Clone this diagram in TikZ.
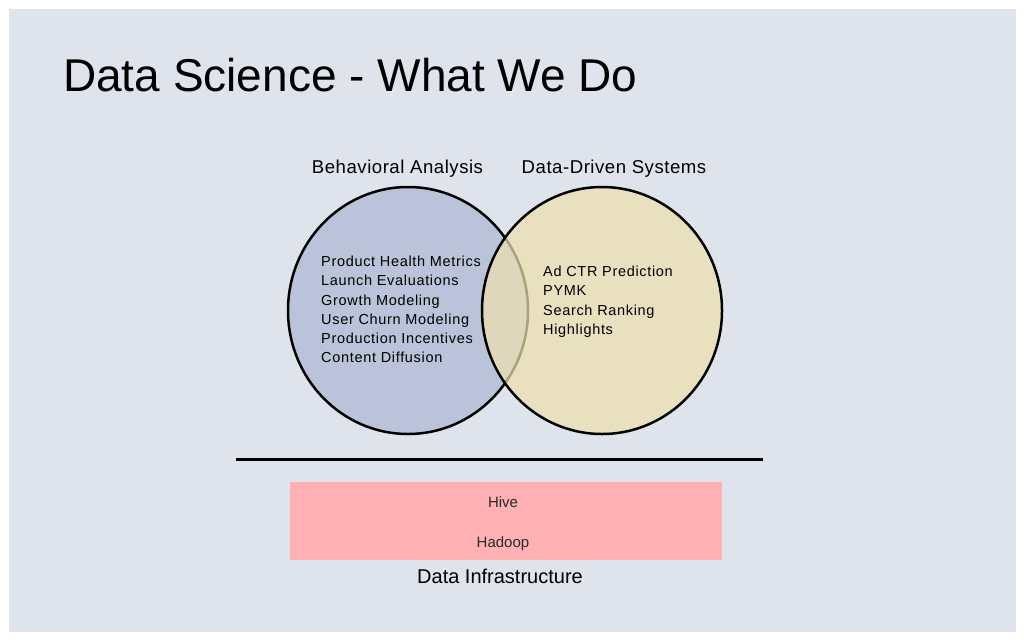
\documentclass[tikz,border=0pt]{standalone}
\usepackage{fontspec}
\setmainfont{Liberation Sans}
\setsansfont{Liberation Sans}
\usetikzlibrary{positioning,shapes.geometric}
\definecolor{slideFill}{HTML}{DFE3EC}
\definecolor{blueFill}{HTML}{BAC3D9}
\definecolor{sandFill}{HTML}{EDE0B0}
\definecolor{pinkFill}{HTML}{FFB1B3}
\definecolor{infraText}{HTML}{2A2A2A}

\begin{document}
\begin{tikzpicture}[
  x=1pt, y=-1pt,
  font=\sffamily,
  title/.style={font=\sffamily\fontsize{46}{52}\selectfont, anchor=base west, inner sep=0pt},
  setlabel/.style={font=\sffamily\fontsize{18.6}{22}\selectfont\addfontfeature{LetterSpace=2.8}, anchor=base, inner sep=0pt},
  itemlist/.style={font=\sffamily\fontsize{14.5}{19.2}\selectfont\addfontfeature{LetterSpace=4.7}, align=left, anchor=north west, inner sep=0pt},
  setcircle/.style={ellipse, draw=black, line width=2.5pt, minimum width=240pt, minimum height=247pt, inner sep=0pt},
  infrabox/.style={rectangle, fill=pinkFill, minimum width=432pt, minimum height=78pt, inner sep=0pt},
  infratext/.style={font=\sffamily\fontsize{15}{18}\selectfont, text=infraText, anchor=base, inner sep=0pt}
]
\useasboundingbox (0,0) rectangle (1024,640);
\fill[white] (0,0) rectangle (1024,640);
\fill[slideFill] (9,9) rectangle (1016,632);

%  Title
\node[title] (title) at (63,91) {Data Science - What We Do};

%  Venn circles
\node[setcircle, fill=blueFill] (behav) at (408,310.5) {};
\node[setcircle, fill=sandFill, fill opacity=0.72] (sys) at (602,310.5) {};

%  Set labels
\node[setlabel] (behavLbl) at (397.5,173) {Behavioral Analysis};
\node[setlabel] (sysLbl) at (614,173) {Data-Driven Systems};

%  Item lists
\node[itemlist] (behavItems) at (321,256) {Product Health Metrics\\Launch Evaluations\\Growth Modeling\\User Churn Modeling\\Production Incentives\\Content Diffusion};
\node[itemlist] (sysItems) at (543,266) {Ad CTR Prediction\\PYMK\\Search Ranking\\Highlights};

%  Divider and infrastructure
\coordinate (divL) at (236,459.5);
\coordinate (divR) at (763,459.5);
\draw[line width=3pt] (divL) -- (divR);

\node[infrabox] (infra) at (506,521) {};
\node[infratext] (hive) at (503,507) {Hive};
\node[infratext] (hadoop) at (503,547) {Hadoop};
\node[setlabel, font=\sffamily\fontsize{20}{24}\selectfont] (infraLbl) at (500,583) {Data Infrastructure};

\end{tikzpicture}
\end{document}
